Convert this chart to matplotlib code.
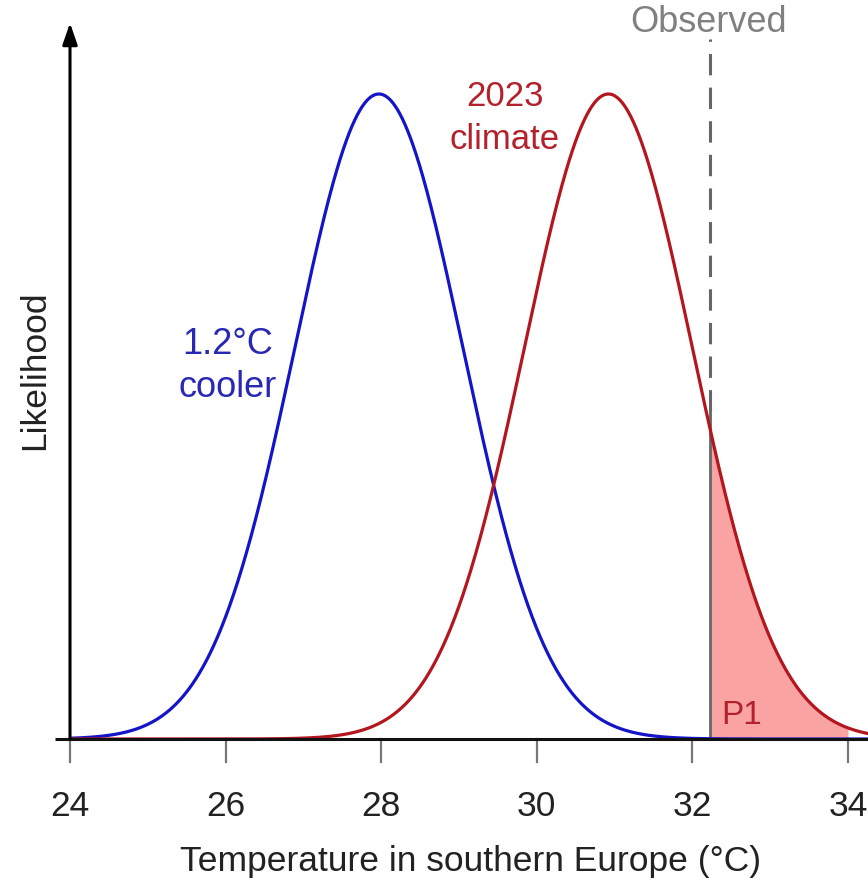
import numpy as np
import matplotlib
matplotlib.use("Agg")
import matplotlib.pyplot as plt

plt.rcParams['font.family'] = ['Liberation Sans', 'DejaVu Sans']

# ---- data ----
xticks = [24, 26, 28, 30, 32, 34]
dist_names = ["1.2°C\ncooler", "2023\nclimate"]
dist_means = [27.97, 30.92]
dist_sds = [1.08, 1.08]
observed = 32.23

BLUE = "#1414c8"
RED = "#b3161f"
FILL = "#f9a3a3"

W, H = 868, 887
fig = plt.figure(figsize=(W / 100, H / 100), dpi=100)
ax = fig.add_axes([0, 0, 1, 1])
px_per_unit = (848 - 70) / 10.0
x_left = 24 - 70 / px_per_unit
x_right = 34 + (W - 848) / px_per_unit
peak_px = 740 - 95
y_bottom = -(H - 740) / peak_px
y_top = 1 + 95 / peak_px
ax.set_xlim(x_left, x_right)
ax.set_ylim(y_bottom, y_top)
ax.axis("off")

x = np.linspace(24, 34.3, 1200)


def curve(mu, sd):
    return np.exp(-0.5 * ((x - mu) / sd) ** 2)


yb = curve(dist_means[0], dist_sds[0])
yr = curve(dist_means[1], dist_sds[1])

# shaded exceedance area
mask = (x >= observed) & (x <= 34.0)
ax.fill_between(x[mask], 0, yr[mask], color=FILL, lw=0, zorder=1)

ax.plot(x, yb, color=BLUE, lw=2.3, zorder=3, solid_capstyle="butt")
ax.plot(x, yr, color=RED, lw=2.3, zorder=3, solid_capstyle="butt")

# observed line: solid part within fill, dashed above
y_obs = np.exp(-0.5 * ((observed - dist_means[1]) / dist_sds[1]) ** 2)
ax.plot([observed, observed], [0, y_obs + 0.03], color="#666666", lw=2.0, zorder=2)
ax.plot([observed, observed], [y_obs + 0.03, (740 - 40) / peak_px], color="#666666",
        lw=2.2, dashes=(7, 4), zorder=2)

# baseline and ticks
ax.plot([24 - 15 / px_per_unit, x_right], [0, 0], color="#111111", lw=2.2,
        zorder=4, solid_capstyle="butt")
for t in xticks:
    ax.plot([t, t], [0, -23 / peak_px], color="#777777", lw=1.6, zorder=2)
    ax.text(t, -67 / peak_px, str(t), ha="center", va="center",
            fontsize=25.5, color="#222222")

# y axis arrow
ax.annotate("", xy=(24, (740 - 24) / peak_px), xytext=(24, 0),
            arrowprops=dict(arrowstyle="-|>,head_length=1.3,head_width=0.45",
                            color="black", lw=2.2, shrinkA=0, shrinkB=0),
            zorder=5)

# axis labels
ax.text(28.0 + (470 - 381) / px_per_unit, -(862 - 740) / peak_px,
        "Temperature in southern Europe (°C)", ha="center", va="center",
        fontsize=25.5, color="#222222")
ax.text(24 - (70 - 35) / px_per_unit, (740 - 370) / peak_px, "Likelihood",
        rotation=90, ha="center", va="center", fontsize=25.5, color="#222222")

# annotations
ax.text(24 + (228 - 70) / px_per_unit, (740 - 366) / peak_px, dist_names[0],
        ha="center", va="center", fontsize=26, color="#2828b4",
        linespacing=1.3)
ax.text(24 + (505 - 70) / px_per_unit, (740 - 118) / peak_px, dist_names[1],
        ha="center", va="center", fontsize=25, color="#b3222c",
        linespacing=1.35)
ax.text(observed - 0.02, (740 - 22) / peak_px, "Observed", ha="center",
        va="center", fontsize=26, color="#808080")
ax.text(24 + (742 - 70) / px_per_unit, (740 - 715) / peak_px, "P1",
        ha="center", va="center", fontsize=24, color="#b3222c", zorder=5)

fig.savefig("out.png", dpi=100)
